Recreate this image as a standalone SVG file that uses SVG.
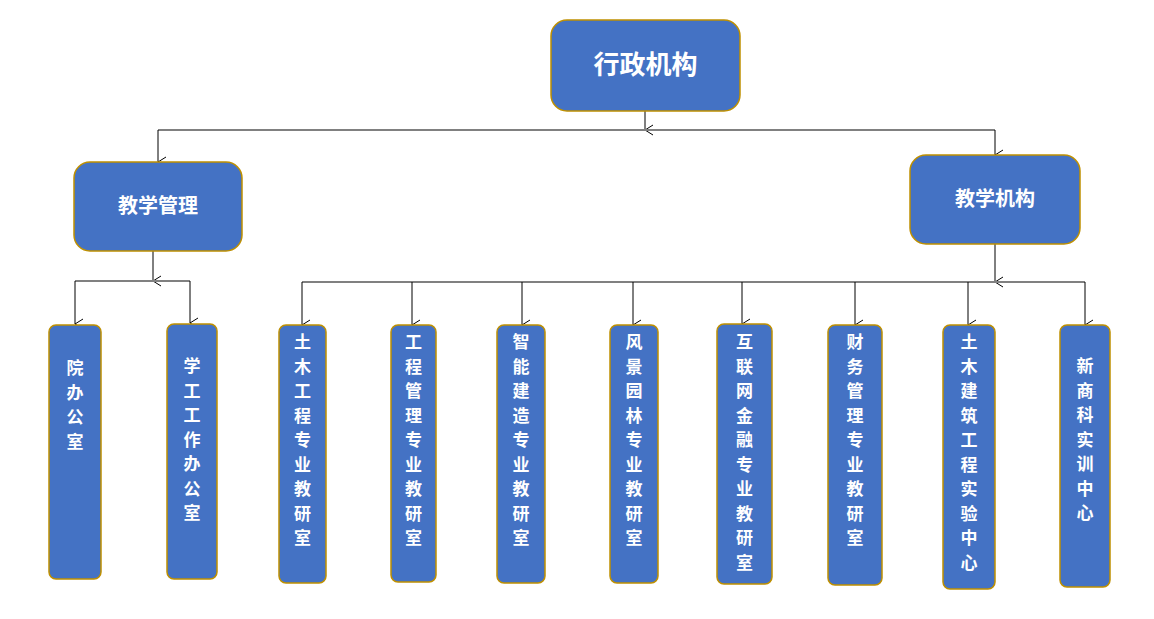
<svg xmlns="http://www.w3.org/2000/svg" width="1154" height="619" viewBox="0 0 1154 619">
<style>
.n{fill:#4472C4;stroke:#BF9000;stroke-width:1.5}
.t{fill:#fff;font-family:"Noto Sans CJK SC",sans-serif;font-weight:bold;text-anchor:middle}
.v{font-size:17px}
.h{stroke:#808080;stroke-width:2;fill:none}
.a{stroke:#000;stroke-width:1;fill:none;marker-end:url(#m)}
</style>
<defs><marker id="m" markerWidth="12" markerHeight="12" refX="6" refY="10" orient="auto" markerUnits="userSpaceOnUse" viewBox="0 0 12 12"><path d="M1,2 L6,10 L11,2" fill="none" stroke="#000" stroke-width="1"/></marker></defs>
<g id="connectors">
<path class="a" d="M645,111 V130"/>
<path class="h" d="M158,130 H995"/>
<path class="a" d="M158,130 V162"/>
<path class="a" d="M995,130 V155"/>
<path class="a" d="M153,251 V281"/>
<path class="h" d="M75,281 H190"/>
<path class="a" d="M75,281 V324"/>
<path class="a" d="M190,281 V323"/>
<path class="a" d="M995,244 V282"/>
<path class="h" d="M302,282 H1085"/>
<path class="a" d="M302,282 V325"/><path class="a" d="M412,282 V325"/><path class="a" d="M522,282 V325"/><path class="a" d="M633,282 V325"/><path class="a" d="M742,282 V324"/><path class="a" d="M855,282 V325"/><path class="a" d="M968,282 V325"/><path class="a" d="M1085,282 V325"/>
</g>
<g id="top"><rect class="n" x="551" y="20" width="189" height="91" rx="16"/><text class="t" x="645.500" y="74" font-size="26">行政机构</text></g>
<g id="jxgl"><rect class="n" x="74" y="162" width="168" height="89" rx="16"/><text class="t" x="158" y="213" font-size="20">教学管理</text></g>
<g id="jxjg"><rect class="n" x="910" y="155" width="170" height="89" rx="16"/><text class="t" x="995" y="206" font-size="20">教学机构</text></g>
<g id="n1"><rect class="n" x="49" y="325" width="52" height="254" rx="7"/><text class="t v" x="75" y="374"><tspan x="75">院</tspan><tspan x="75" dy="24.500">办</tspan><tspan x="75" dy="24.500">公</tspan><tspan x="75" dy="24.500">室</tspan></text></g>
<g id="n2"><rect class="n" x="167" y="324" width="50" height="255" rx="7"/><text class="t v" x="192" y="372"><tspan x="192">学</tspan><tspan x="192" dy="24.500">工</tspan><tspan x="192" dy="24.500">工</tspan><tspan x="192" dy="24.500">作</tspan><tspan x="192" dy="24.500">办</tspan><tspan x="192" dy="24.500">公</tspan><tspan x="192" dy="24.500">室</tspan></text></g>
<g id="n3"><rect class="n" x="279" y="325" width="47" height="258" rx="7"/><text class="t v" y="348"><tspan x="302.500">土</tspan><tspan x="302.500" dy="24.500">木</tspan><tspan x="302.500" dy="24.500">工</tspan><tspan x="302.500" dy="24.500">程</tspan><tspan x="302.500" dy="24.500">专</tspan><tspan x="302.500" dy="24.500">业</tspan><tspan x="302.500" dy="24.500">教</tspan><tspan x="302.500" dy="24.500">研</tspan><tspan x="302.500" dy="24.500">室</tspan></text></g>
<g id="n4"><rect class="n" x="391" y="325" width="45" height="257" rx="7"/><text class="t v" y="348"><tspan x="413.500">工</tspan><tspan x="413.500" dy="24.500">程</tspan><tspan x="413.500" dy="24.500">管</tspan><tspan x="413.500" dy="24.500">理</tspan><tspan x="413.500" dy="24.500">专</tspan><tspan x="413.500" dy="24.500">业</tspan><tspan x="413.500" dy="24.500">教</tspan><tspan x="413.500" dy="24.500">研</tspan><tspan x="413.500" dy="24.500">室</tspan></text></g>
<g id="n5"><rect class="n" x="497" y="325" width="48" height="258" rx="7"/><text class="t v" y="348"><tspan x="521">智</tspan><tspan x="521" dy="24.500">能</tspan><tspan x="521" dy="24.500">建</tspan><tspan x="521" dy="24.500">造</tspan><tspan x="521" dy="24.500">专</tspan><tspan x="521" dy="24.500">业</tspan><tspan x="521" dy="24.500">教</tspan><tspan x="521" dy="24.500">研</tspan><tspan x="521" dy="24.500">室</tspan></text></g>
<g id="n6"><rect class="n" x="610" y="325" width="48" height="258" rx="7"/><text class="t v" y="348"><tspan x="634">风</tspan><tspan x="634" dy="24.500">景</tspan><tspan x="634" dy="24.500">园</tspan><tspan x="634" dy="24.500">林</tspan><tspan x="634" dy="24.500">专</tspan><tspan x="634" dy="24.500">业</tspan><tspan x="634" dy="24.500">教</tspan><tspan x="634" dy="24.500">研</tspan><tspan x="634" dy="24.500">室</tspan></text></g>
<g id="n7"><rect class="n" x="717" y="324" width="55" height="260" rx="7"/><text class="t v" y="348"><tspan x="744.500">互</tspan><tspan x="744.500" dy="24.500">联</tspan><tspan x="744.500" dy="24.500">网</tspan><tspan x="744.500" dy="24.500">金</tspan><tspan x="744.500" dy="24.500">融</tspan><tspan x="744.500" dy="24.500">专</tspan><tspan x="744.500" dy="24.500">业</tspan><tspan x="744.500" dy="24.500">教</tspan><tspan x="744.500" dy="24.500">研</tspan><tspan x="744.500" dy="24.500">室</tspan></text></g>
<g id="n8"><rect class="n" x="828" y="325" width="54" height="260" rx="7"/><text class="t v" y="348"><tspan x="855">财</tspan><tspan x="855" dy="24.500">务</tspan><tspan x="855" dy="24.500">管</tspan><tspan x="855" dy="24.500">理</tspan><tspan x="855" dy="24.500">专</tspan><tspan x="855" dy="24.500">业</tspan><tspan x="855" dy="24.500">教</tspan><tspan x="855" dy="24.500">研</tspan><tspan x="855" dy="24.500">室</tspan></text></g>
<g id="n9"><rect class="n" x="943" y="325" width="52" height="264" rx="7"/><text class="t v" y="348"><tspan x="969">土</tspan><tspan x="969" dy="24.500">木</tspan><tspan x="969" dy="24.500">建</tspan><tspan x="969" dy="24.500">筑</tspan><tspan x="969" dy="24.500">工</tspan><tspan x="969" dy="24.500">程</tspan><tspan x="969" dy="24.500">实</tspan><tspan x="969" dy="24.500">验</tspan><tspan x="969" dy="24.500">中</tspan><tspan x="969" dy="24.500">心</tspan></text></g>
<g id="n10"><rect class="n" x="1060" y="325" width="50" height="262" rx="7"/><text class="t v" y="372"><tspan x="1085">新</tspan><tspan x="1085" dy="24.500">商</tspan><tspan x="1085" dy="24.500">科</tspan><tspan x="1085" dy="24.500">实</tspan><tspan x="1085" dy="24.500">训</tspan><tspan x="1085" dy="24.500">中</tspan><tspan x="1085" dy="24.500">心</tspan></text></g>
</svg>
